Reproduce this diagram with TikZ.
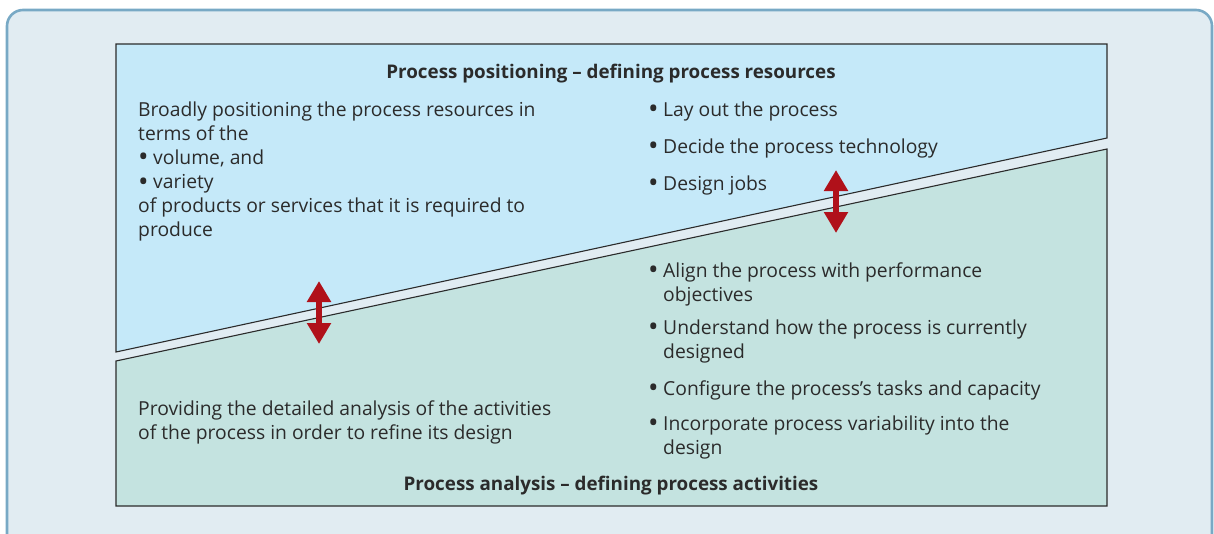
\documentclass[tikz,border=0pt]{standalone}
\usepackage{fontspec}
\usepackage{graphicx}
\setmainfont{Open Sans}
\usetikzlibrary{arrows.meta}
\definecolor{bgc}{HTML}{E1ECF2}
\definecolor{bordc}{HTML}{78A9C5}
\definecolor{topc}{HTML}{C5E9F9}
\definecolor{botc}{HTML}{C4E3E0}
\definecolor{txtc}{HTML}{2B2B2B}
\definecolor{arrc}{HTML}{B0111A}
\newcommand{\bul}{\makebox[15pt][l]{\smash{\raisebox{-2.6pt}{\scalebox{1.45}{•}}}}}
\begin{document}
\begin{tikzpicture}[x=1pt,y=-1pt,
  outerbox/.style={draw=bordc,line width=2.6pt,fill=bgc,rounded corners=16pt},
  panel/.style={draw=txtc,line width=1.1pt,line join=miter},
  txt/.style={text=txtc,inner sep=0pt,anchor=base west,font=\fontsize{19.3}{24}\selectfont},
  ttl/.style={text=txtc,inner sep=0pt,anchor=base,font=\bfseries\fontsize{18.8}{24}\selectfont},
  dblarrow/.style={draw=arrc,line width=6pt,{Triangle[width=23pt,length=21pt]}-{Triangle[width=23pt,length=21pt]}}
]
\useasboundingbox (0,0) rectangle (1214,533);
\clip (0,0) rectangle (1214,533);
\draw[outerbox] (7,10) rectangle (1212,620);
% panels
\filldraw[panel,fill=topc] (116,44) -- (1107,44) -- (1107,138) -- (116,352) -- cycle;
\filldraw[panel,fill=botc] (116,361) -- (1107,149) -- (1107,506) -- (116,506) -- cycle;
% titles
\node[ttl] (t1) at (611,78) {Process positioning – defining process resources};
\node[ttl] (t2) at (611,490) {Process analysis – defining process activities};
% left top text
\node[txt] (l1) at (138,116) {Broadly positioning the process resources in};
\node[txt] (l2) at (138,140) {terms of the};
\node[txt] (l3) at (138,164) {\bul volume, and};
\node[txt] (l4) at (138,188.5) {\bul variety};
\node[txt] (l5) at (138,212) {of products or services that it is required to};
\node[txt] (l6) at (138,236) {produce};
% right top bullets
\node[txt] (r1) at (648,116) {\bul Lay out the process};
\node[txt] (r2) at (648,153) {\bul Decide the process technology};
\node[txt] (r3) at (648,190) {\bul Design jobs};
% right bottom bullets
\node[txt] (b1) at (648,277) {\bul Align the process with performance};
\node[txt] (b1b) at (663,301) {objectives};
\node[txt] (b2) at (648,334) {\bul Understand how the process is currently};
\node[txt] (b2b) at (663,358) {designed};
\node[txt] (b3) at (648,395) {\bul Configure the process’s tasks and capacity};
\node[txt] (b4) at (648,430) {\bul Incorporate process variability into the};
\node[txt] (b4b) at (663,454) {design};
% left bottom text
\node[txt] (p1) at (138,415) {Providing the detailed analysis of the activities};
\node[txt] (p2) at (138,439) {of the process in order to refine its design};
% arrows
\coordinate (la1) at (319,281);
\coordinate (la2) at (319,344);
\coordinate (ra1) at (836,170);
\coordinate (ra2) at (836,233);
\draw[dblarrow] (la1) -- (la2);
\draw[dblarrow] (ra1) -- (ra2);
\end{tikzpicture}
\end{document}
